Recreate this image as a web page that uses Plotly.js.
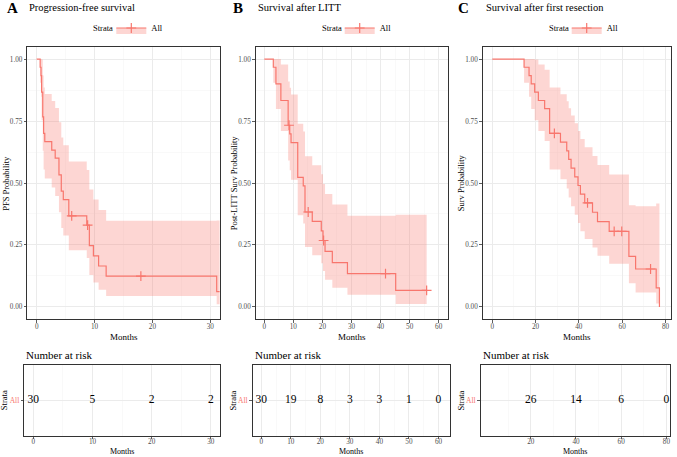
<!DOCTYPE html>
<html><head><meta charset="utf-8">
<script src="https://cdn.plot.ly/plotly-3.0.1.min.js"></script>
<style>html,body{margin:0;padding:0;background:#fff}#chart{width:677px;height:457px}</style>
</head><body><div id="chart"></div>
<script>
// ---------- Data ----------
// Panel A: Progression-free survival
const A_time = [0, 0.6, 0.75, 0.85, 1.05, 1.2, 1.4, 2.6, 3.2, 3.85, 4.25, 4.6, 5.55, 8.65, 9.1, 9.8, 10.7, 12.0, 31.1, 31.6];
const A_surv = [1, 0.967, 0.933, 0.867, 0.767, 0.7, 0.667, 0.633, 0.6, 0.533, 0.467, 0.433, 0.367, 0.330, 0.2475, 0.206, 0.165, 0.124, 0.062, 0.062];
const A_lower = [1, 0.905, 0.848, 0.753, 0.630, 0.554, 0.518, 0.482, 0.448, 0.382, 0.318, 0.288, 0.229, 0.197, 0.129, 0.098, 0.0696, 0.0442, 0.011, 0.011];
const A_upper = [1, 1, 1, 0.998, 0.934, 0.885, 0.859, 0.831, 0.803, 0.745, 0.684, 0.652, 0.587, 0.552, 0.474, 0.433, 0.391, 0.348, 0.349, 0.349];
const A_censor_time = [6.05, 8.8, 18.0];
const A_censor_surv = [0.367, 0.330, 0.124];
const A_risk_time = [0, 10, 20, 30];
const A_risk_n = [30, 5, 2, 2];

// Panel B: Survival after LITT
const B_time = [0, 3.1, 4.0, 5.7, 8.2, 8.75, 9.2, 11.5, 13.4, 14.0, 16.5, 19.6, 20.2, 20.9, 23.4, 28.6, 45.2, 55.85];
const B_surv = [1, 0.967, 0.9, 0.833, 0.733, 0.698, 0.663, 0.523, 0.488, 0.383, 0.345, 0.307, 0.268, 0.224, 0.179, 0.134, 0.067, 0.067];
const B_lower = [1, 0.905, 0.799, 0.710, 0.591, 0.551, 0.513, 0.370, 0.337, 0.2415, 0.208, 0.176, 0.145, 0.110, 0.0776, 0.0489, 0.0121, 0.0121];
const B_upper = [1, 1, 1, 0.978, 0.910, 0.884, 0.857, 0.739, 0.708, 0.608, 0.572, 0.535, 0.4955, 0.456, 0.413, 0.3676, 0.372, 0.372];
const B_censor_time = [8.5, 15.1, 20.4, 41.7, 55.85];
const B_censor_surv = [0.733, 0.383, 0.268, 0.134, 0.067];
const B_risk_time = [0, 10, 20, 30, 40, 50, 60];
const B_risk_n = [30, 19, 8, 3, 3, 1, 0];

// Panel C: Survival after first resection
const C_time = [0, 14.7, 17.0, 18.0, 19.6, 21.3, 24.2, 26.5, 31.5, 34.4, 35.3, 36.4, 38.1, 39.6, 40.7, 42.7, 46.3, 48.6, 54.0, 63.1, 66.2, 75.7, 77.2];
const C_surv = [1, 0.967, 0.933, 0.9, 0.867, 0.833, 0.8, 0.7, 0.665, 0.63, 0.595, 0.56, 0.525, 0.49, 0.455, 0.42, 0.382, 0.344, 0.305, 0.204, 0.153, 0.0765, 0];
const C_lower = [1, 0.905, 0.848, 0.799, 0.753, 0.710, 0.669, 0.554, 0.515, 0.478, 0.4417, 0.4063, 0.3718, 0.3383, 0.3057, 0.2738, 0.2395, 0.2065, 0.1742, 0.095, 0.0577, 0.014, 0.014];
const C_upper = [1, 1, 1, 1, 0.998, 0.978, 0.957, 0.885, 0.858, 0.830, 0.8016, 0.772, 0.741, 0.7097, 0.6774, 0.644, 0.609, 0.573, 0.534, 0.41, 0.406, 0.417, 0.417];
const C_censor_time = [28.7, 44.0, 56.3, 59.8, 73.1];
const C_censor_surv = [0.7, 0.42, 0.305, 0.305, 0.153];
const C_risk_time = [20, 40, 60, 80];
const C_risk_n = [26, 14, 6, 0];

const STRATA = 'All';
const PANEL_LETTERS = ['A', 'B', 'C'];
const PANEL_TITLES = ['Progression-free survival', 'Survival after LITT', 'Survival after first resection'];
const Y_TITLES = ['PFS Probability', 'Post-LITT Surv Probability', 'Surv Probability'];
const X_TITLE = 'Months';
const RISK_TITLE = 'Number at risk';
const LEGEND_TITLE = 'Strata';

// ---------- Styling ----------
const W = 677, H = 457;
const FONT = '"Liberation Serif", serif';
const RED = '#F8766D';
const FILL = 'rgba(248,118,109,0.30)';
const px = v => v / W;
const py = v => 1 - v / H;

const panels = [
  {time: A_time, surv: A_surv, lo: A_lower, hi: A_upper, ct: A_censor_time, cs: A_censor_surv, rt: A_risk_time, rn: A_risk_n,
   main: [27.3, 220], mainRange: [-1.62, 31.67], dtick: 10, minor: 5,
   risk: [24.3, 220], riskRange: [-1.52, 31.55], riskTicks: [0, 10, 20, 30], riskMinor: [5, 15, 25],
   letterX: 5, titleX: 27},
  {time: B_time, surv: B_surv, lo: B_lower, hi: B_upper, ct: B_censor_time, cs: B_censor_surv, rt: B_risk_time, rn: B_risk_n,
   main: [255.7, 448.3], mainRange: [-2.96, 63.3], dtick: 10, minor: 5,
   risk: [252.7, 450], riskRange: [-2.9, 63.9], riskTicks: [0, 10, 20, 30, 40, 50, 60], riskMinor: [5, 15, 25, 35, 45, 55],
   letterX: 231, titleX: 256},
  {time: C_time, surv: C_surv, lo: C_lower, hi: C_upper, ct: C_censor_time, cs: C_censor_surv, rt: C_risk_time, rn: C_risk_n,
   main: [482.7, 670.7], mainRange: [-4.4, 82.4], dtick: 20, minor: 10,
   risk: [480.6, 670], riskRange: [-2.2, 81.6], riskTicks: [20, 40, 60, 80], riskMinor: [10, 30, 50, 70],
   letterX: 456, titleX: 484}
];

const MAIN_TOP = 46.7, MAIN_BOT = 319.3, RISK_TOP = 365, RISK_BOT = 435.7;

const tickfont = {family: FONT, size: 7.2, color: '#4D4D4D'};
const frame = {showline: true, mirror: true, linecolor: '#333333', linewidth: 1, ticks: 'outside', ticklen: 2.5, tickwidth: 0.8, tickcolor: '#333333', zeroline: false, tickfont: tickfont};
const grid = {showgrid: true, gridcolor: '#EBEBEB', gridwidth: 1};
const minorGrid = {showgrid: true, gridcolor: '#F5F5F5', gridwidth: 0.6, ticks: ''};

const traces = [];
const layout = {
  width: W, height: H, margin: {l: 0, r: 0, t: 0, b: 0},
  paper_bgcolor: '#fff', plot_bgcolor: '#fff',
  font: {family: FONT, color: '#000'},
  showlegend: true,
  annotations: []
};

panels.forEach((p, i) => {
  const n = i + 1;
  const mx = n === 1 ? 'x' : 'x' + n, my = n === 1 ? 'y' : 'y' + n;
  const rxN = n + 3, rx = 'x' + rxN, ry = 'y' + rxN;
  const legendId = n === 1 ? 'legend' : 'legend' + n;

  // confidence band
  traces.push({x: p.time, y: p.lo, xaxis: mx, yaxis: my, type: 'scatter', mode: 'lines',
    line: {shape: 'hv', width: 0, color: FILL}, showlegend: false, hoverinfo: 'skip'});
  traces.push({x: p.time, y: p.hi, xaxis: mx, yaxis: my, type: 'scatter', mode: 'lines',
    line: {shape: 'hv', width: 0, color: FILL}, fill: 'tonexty', fillcolor: FILL, showlegend: false, hoverinfo: 'skip'});
  // KM curve
  traces.push({x: p.time, y: p.surv, xaxis: mx, yaxis: my, type: 'scatter', mode: 'lines',
    line: {shape: 'hv', width: 1.2, color: RED}, showlegend: false, name: STRATA});
  // censor marks
  traces.push({x: p.ct, y: p.cs, xaxis: mx, yaxis: my, type: 'scatter', mode: 'markers',
    marker: {symbol: 'cross-thin', size: 7, line: {color: RED, width: 1.2}, color: RED}, showlegend: false});
  // legend entry
  traces.push({x: [null], y: [null], xaxis: mx, yaxis: my, type: 'scatter', mode: 'lines+markers',
    fill: 'toself', fillcolor: FILL, line: {color: RED, width: 1.2},
    marker: {symbol: 'cross-thin', size: 7, line: {color: RED, width: 1.2}, color: RED},
    name: STRATA, legend: legendId, showlegend: true});
  // risk table numbers
  traces.push({x: p.rt, y: p.rt.map(() => STRATA), xaxis: rx, yaxis: ry, type: 'scatter', mode: 'text',
    text: p.rn.map(String), textposition: 'middle center',
    textfont: {family: FONT, size: 11.5, color: '#000'}, showlegend: false, hoverinfo: 'skip'});

  // axes
  layout['xaxis' + (n === 1 ? '' : n)] = Object.assign({}, frame, grid, {
    domain: [px(p.main[0]), px(p.main[1])], range: p.mainRange, dtick: p.dtick, tick0: 0,
    ticklabelstandoff: -2,
    anchor: my, minor: Object.assign({dtick: p.minor, tick0: 0}, minorGrid)});
  layout['yaxis' + (n === 1 ? '' : n)] = Object.assign({}, frame, grid, {
    domain: [py(MAIN_BOT), py(MAIN_TOP)], range: [-0.05, 1.05], tickvals: [0, 0.25, 0.5, 0.75, 1],
    tickformat: '.2f', anchor: mx, minor: Object.assign({tickvals: [0.125, 0.375, 0.625, 0.875]}, minorGrid)});
  layout['xaxis' + rxN] = Object.assign({}, frame, grid, {
    domain: [px(p.risk[0]), px(p.risk[1])], range: p.riskRange, tickvals: p.riskTicks,
    ticklen: 2, ticklabelstandoff: -3,
    anchor: ry, minor: Object.assign({tickvals: p.riskMinor}, minorGrid)});
  layout['yaxis' + rxN] = Object.assign({}, frame, grid, {
    domain: [py(RISK_BOT), py(RISK_TOP)], type: 'category', range: [-0.5, 0.5],
    anchor: rx, tickfont: {family: FONT, size: 7.5, color: RED}});

  // legend (key + "All"); the "Strata" label is an annotation to its left
  layout[legendId] = {x: px(p.main[0] + 84), xanchor: 'left', y: py(28), yanchor: 'middle',
    orientation: 'h', bgcolor: 'rgba(0,0,0,0)', font: {family: FONT, size: 8.5, color: '#000'},
    itemwidth: 30};

  const A = layout.annotations;
  const ann = (text, x, y, opts) => A.push(Object.assign({text, xref: 'paper', yref: 'paper', x: px(x), y: py(y),
    xanchor: 'center', yanchor: 'middle', showarrow: false, font: {family: FONT, size: 9, color: '#000'}}, opts || {}));
  ann('<b>' + PANEL_LETTERS[i] + '</b>', p.letterX, 8, {xanchor: 'left', font: {family: FONT, size: 15, color: '#000'}});
  ann(PANEL_TITLES[i], p.titleX, 8, {xanchor: 'left', font: {family: FONT, size: 10.5, color: '#000'}});
  ann(LEGEND_TITLE, p.main[0] + 88, 28, {xanchor: 'right', font: {family: FONT, size: 8.5, color: '#000'}});
  ann(Y_TITLES[i], p.main[0] - 21.5, (MAIN_TOP + MAIN_BOT) / 2, {textangle: -90, font: {family: FONT, size: 8.5, color: '#000'}});
  ann(X_TITLE, (p.main[0] + p.main[1]) / 2, 337);
  ann(RISK_TITLE, p.risk[0], 355, {xanchor: 'left', font: {family: FONT, size: 11, color: '#000'}});
  ann(LEGEND_TITLE, p.risk[0] - 19.5, (RISK_TOP + RISK_BOT) / 2, {textangle: -90, font: {family: FONT, size: 8.5, color: '#000'}});
  ann(X_TITLE, (p.risk[0] + p.risk[1]) / 2, 457.5, {yanchor: 'bottom', font: {family: FONT, size: 8, color: '#000'}});
});

Plotly.newPlot('chart', traces, layout, {displayModeBar: false, staticPlot: true});
</script></body></html>
